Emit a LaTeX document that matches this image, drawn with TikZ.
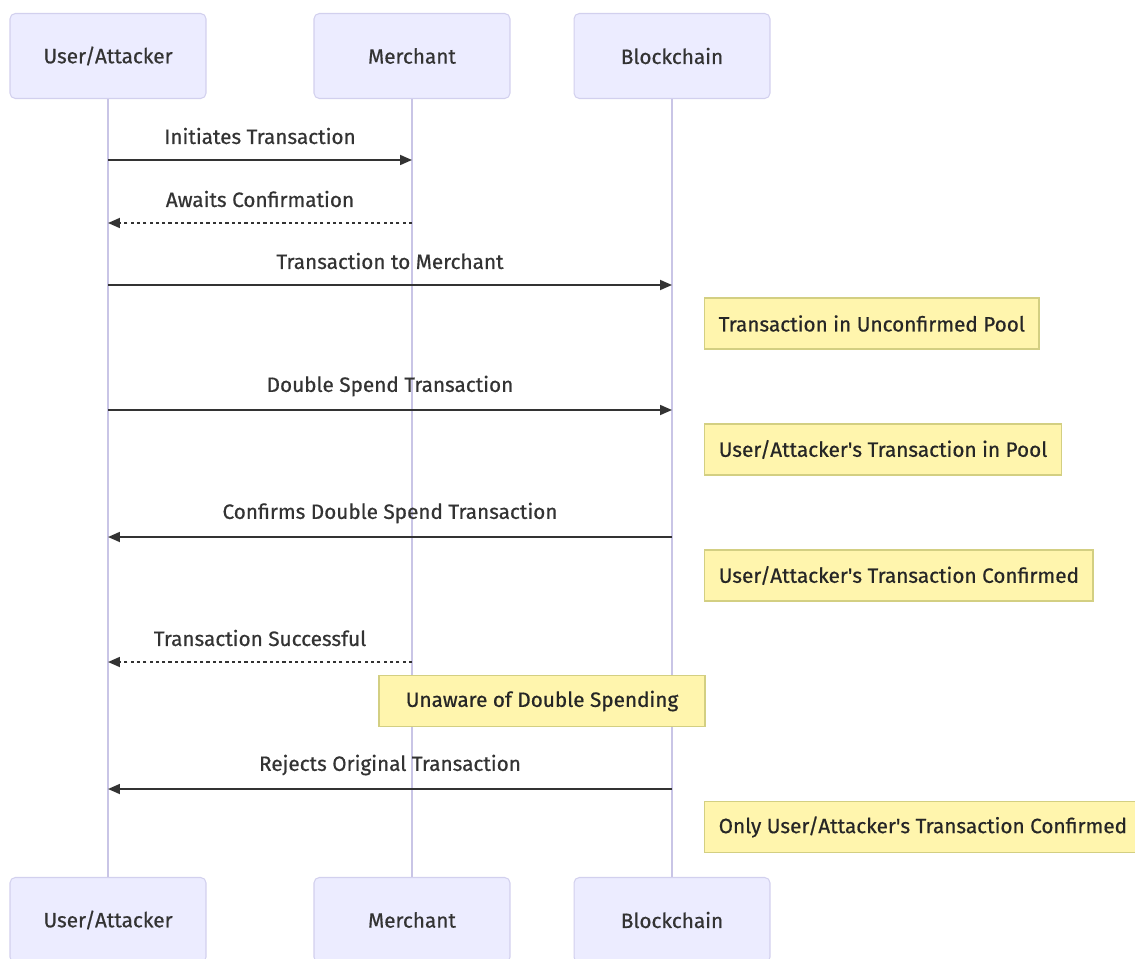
\documentclass[tikz,border=0pt]{standalone}
\usepackage{fontspec}
\setmainfont{Fira Sans}[UprightFeatures={FakeBold=0.6}]
\usetikzlibrary{arrows.meta}

\definecolor{actorfill}{HTML}{ECECFF}
\definecolor{actorline}{HTML}{D2D0EE}
\definecolor{lifeline}{HTML}{C9C5E6}
\definecolor{notefill}{HTML}{FFF5AD}
\definecolor{noteline}{HTML}{D3CF82}
\definecolor{msgline}{HTML}{333333}

\tikzset{
  actor/.style={draw=actorline, line width=0.6pt, fill=actorfill, rounded corners=3pt,
    minimum width=3.92cm, minimum height=1.7cm, text=msgline, font=\fontsize{11.8}{14}\selectfont},
  note/.style={draw=noteline, line width=0.8pt, fill=notefill, inner xsep=0.28cm,
    minimum height=1.02cm, text=black!85, font=\fontsize{11.8}{14}\selectfont},
  life/.style={draw=lifeline, line width=1pt},
  msg/.style={draw=msgline, line width=1pt, -{Triangle[length=0.24cm, width=0.2cm]}},
  reply/.style={msg, dash pattern=on 1.8pt off 1.8pt},
  lbl/.style={midway, yshift=0.48cm, inner sep=0, text=msgline, font=\fontsize{11.8}{14}\selectfont}
}

\begin{document}
\begin{tikzpicture}[x=0.02cm, y=-0.02cm]
  \useasboundingbox (0,0) rectangle (1135,959);

  % actors
  \node[actor] (ua) at (108,56) {User/Attacker};
  \node[actor] (mt) at (412,56) {Merchant};
  \node[actor] (bc) at (672,56) {Blockchain};
  \node[actor] (ub) at (108,920) {User/Attacker};
  \node[actor] (mb) at (412,920) {Merchant};
  \node[actor] (bb) at (672,920) {Blockchain};

  % lifelines
  \draw[life] (ua.south) -- (ub.north);
  \draw[life] (mt.south) -- (mb.north);
  \draw[life] (bc.south) -- (bb.north);

  % message points
  \coordinate (u1) at (108,160); \coordinate (m1) at (412,160);
  \coordinate (u2) at (108,223); \coordinate (m2) at (412,223);
  \coordinate (u3) at (108,285); \coordinate (b3) at (672,285);
  \coordinate (u5) at (108,410); \coordinate (b5) at (672,410);
  \coordinate (u7) at (108,537); \coordinate (b7) at (672,537);
  \coordinate (u9) at (108,662); \coordinate (m9) at (412,662);
  \coordinate (u11) at (108,789); \coordinate (b11) at (672,789);

  % messages
  \draw[msg] (u1) to node[lbl] {Initiates Transaction} (m1);
  \draw[reply] (m2) to node[lbl] {Awaits Confirmation} (u2);
  \draw[msg] (u3) to node[lbl] {Transaction to Merchant} (b3);
  \draw[msg] (u5) to node[lbl] {Double Spend Transaction} (b5);
  \draw[msg] (b7) to node[lbl] {Confirms Double Spend Transaction} (u7);
  \draw[reply] (m9) to node[lbl] {Transaction Successful} (u9);
  \draw[msg] (b11) to node[lbl] {Rejects Original Transaction} (u11);

  % notes
  \node[note, anchor=west] (n1) at (704,323.5) {Transaction in Unconfirmed Pool};
  \node[note, anchor=west] (n2) at (704,449.5) {User/Attacker\textquotesingle s Transaction in Pool};
  \node[note, anchor=west] (n3) at (704,575.5) {User/Attacker\textquotesingle s Transaction Confirmed};
  \node[note, minimum width=6.52cm] (n4) at (542,701) {Unaware of Double Spending};
  \node[note, anchor=west] (n5) at (704,827) {Only User/Attacker\textquotesingle s Transaction Confirmed};
\end{tikzpicture}
\end{document}
